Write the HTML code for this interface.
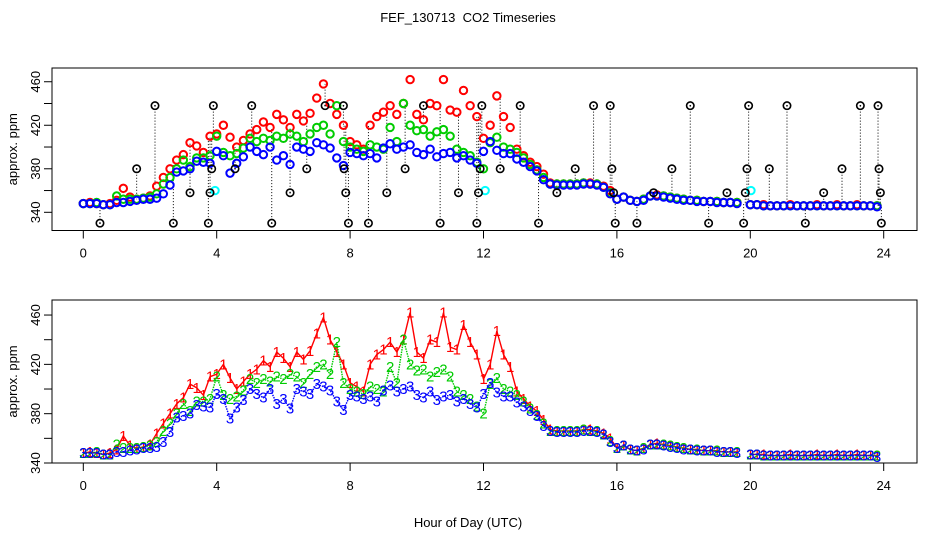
<!DOCTYPE html>
<html><head><meta charset="utf-8"><style>
html,body{margin:0;padding:0;background:#fff;}
svg{display:block;font-family:"Liberation Sans",Arial,sans-serif;}
</style></head><body>
<svg id="chart" width="936" height="540" viewBox="0 0 936 540" xmlns="http://www.w3.org/2000/svg">
<rect x="0" y="0" width="936" height="540" fill="#fff"/>
<text x="468" y="22" font-size="13" text-anchor="middle">FEF_130713&#160; CO2 Timeseries</text>
<text x="468" y="527" font-size="13" text-anchor="middle">Hour of Day (UTC)</text>
<g id="top"></g>
<g id="bot"></g>
</svg>
<script>
const hours = [0,0.2,0.4,0.6,0.8,1,1.2,1.4,1.6,1.8,2,2.2,2.4,2.6,2.8,3,3.2,3.4,3.6,3.8,4,4.2,4.4,4.6,4.8,5,5.2,5.4,5.6,5.8,6,6.2,6.4,6.6,6.8,7,7.2,7.4,7.6,7.8,8,8.2,8.4,8.6,8.8,9,9.2,9.4,9.6,9.8,10,10.2,10.4,10.6,10.8,11,11.2,11.4,11.6,11.8,12,12.2,12.4,12.6,12.8,13,13.2,13.4,13.6,13.8,14,14.2,14.4,14.6,14.8,15,15.2,15.4,15.6,15.8,16,16.2,16.4,16.6,16.8,17,17.2,17.4,17.6,17.8,18,18.2,18.4,18.6,18.8,19,19.2,19.4,19.6,20,20.2,20.4,20.6,20.8,21,21.2,21.4,21.6,21.8,22,22.2,22.4,22.6,22.8,23,23.2,23.4,23.6,23.8];
const red = [348,349,348,347,348,351,362,354,352,353,355,364,372,380,388,393,404,401,395,410,412,420,409,400,406,412,416,423,418,430,425,418,430,424,431,445,458,440,430,420,405,402,398,420,428,432,438,430,440,462,430,425,440,438,462,434,432,452,438,428,408,420,447,428,418,398,392,386,382,375,367,366,366,366,366,367,367,366,364,360,352,354,351,350,352,355,356,355,354,353,352,351,351,350,350,350,349,349,349,347,347,347,346,346,346,347,346,346,346,347,346,346,347,346,346,347,346,346,346];
const green = [348,348,349,347,347,355,352,352,352,353,354,357,366,372,380,388,382,390,390,392,410,395,392,394,399,408,405,408,406,410,408,412,410,405,412,418,420,412,438,405,400,398,396,402,400,398,418,405,440,420,415,416,410,414,416,410,398,395,392,386,380,404,409,400,398,395,390,384,379,372,366,366,366,366,366,367,366,366,363,358,352,354,351,350,352,355,355,355,354,353,352,351,351,350,350,350,349,349,349,347,347,346,346,346,346,346,346,346,346,346,346,346,346,346,346,346,346,346,346];
const blue = [348,348,348,347,347,349,349,350,351,352,352,353,357,365,377,378,380,387,386,385,396,392,376,385,391,400,396,393,400,388,392,384,400,398,396,404,402,399,390,383,395,394,392,394,390,399,403,398,400,402,395,393,398,391,394,395,390,392,388,385,396,405,397,394,394,389,386,382,378,370,366,365,365,365,365,366,366,365,363,357,352,354,351,350,351,355,355,354,353,352,351,351,350,350,350,349,349,349,348,347,347,346,346,346,346,346,346,346,346,346,346,346,346,346,346,346,346,346,345];
const outlierHours = [0.5,1.6,2.15,2.7,3.2,3.75,3.8,3.85,3.9,4.55,5.05,5.65,6.2,6.7,7.25,7.8,7.82,7.87,7.95,8.55,9.1,9.65,10.2,10.7,11.25,11.8,11.85,11.9,11.95,12.5,13.1,13.65,14.2,14.75,15.3,15.8,15.85,15.9,15.95,16.6,17.1,17.65,18.2,18.75,19.3,19.8,19.85,19.9,19.95,20.57,21.1,21.65,22.2,22.75,23.3,23.83,23.86,23.9,23.93];
const outlierValues = [330,380,438,330,358,330,358,380,438,380,438,330,358,380,438,438,380,358,330,330,358,380,438,330,358,330,358,380,438,380,438,330,358,380,438,438,380,358,330,330,358,380,438,330,358,330,358,380,438,380,438,330,358,380,438,438,380,358,330];
const cyanHours = [3.95,12.05,20.02];
const cyanValues = [360,360,360];
const yTicks = [340,360,380,400,420,440,460];
const yLabels = [340,380,420,460];
const xTicks = [0,4,8,12,16,20,24];

const NS = "http://www.w3.org/2000/svg";
function mk(tag, attrs, parent){const e=document.createElementNS(NS,tag);for(const k in attrs)e.setAttribute(k,attrs[k]);parent.appendChild(e);return e;}
const X = h => 83.3 + h*33.35;
const Ytop = v => 212.3 - (v-340)*1.088;
const Ybot = v => 463 - (v-340)*1.233;
function nearest(h){let b=0;for(let i=0;i<hours.length;i++){if(Math.abs(hours[i]-h)<Math.abs(hours[b]-h))b=i;}return b;}

function axes(g, top, bottom, Y, prefix){
  const box = mk('rect',{x:52,y:top,width:865,height:bottom-top,fill:'none',stroke:'#000','stroke-width':1},g);
  
  
  mk('line',{x1:X(0),x2:X(24),y1:bottom,y2:bottom,stroke:'#000'},g);
  xTicks.forEach(h=>{
    mk('line',{x1:X(h),x2:X(h),y1:bottom,y2:bottom+8,stroke:'#000'},g);
    const t=mk('text',{x:X(h),y:bottom+27,'font-size':13,'text-anchor':'middle'},g);
    t.textContent=h;
    
    
  });
  mk('line',{x1:52,x2:52,y1:Y(340),y2:Y(460),stroke:'#000'},g);
  yTicks.forEach(v=>{mk('line',{x1:44,x2:52,y1:Y(v),y2:Y(v),stroke:'#000'},g);});
  yLabels.forEach(v=>{
    const t=mk('text',{x:0,y:0,'font-size':13,'text-anchor':'middle',transform:`translate(40,${Y(v)}) rotate(-90)`},g);
    t.textContent=v;
    
    
  });
  const yl=mk('text',{x:0,y:0,'font-size':13,'text-anchor':'middle',transform:`translate(17,${(top+bottom)/2}) rotate(-90)`},g);
  yl.textContent='approx. ppm';
  
  
}

// top panel
const gt=document.getElementById('top');
axes(gt,68,230.5,Ytop,'top');
outlierHours.forEach((h,i)=>{
  const v=red[nearest(h)];
  const ln=mk('line',{x1:X(h),x2:X(h),y1:Ytop(outlierValues[i]),y2:Ytop(v),stroke:'#000','stroke-dasharray':'1,2','stroke-width':1},gt);
  
  
});
[[red,'#f00','red'],[green,'#0c0','green'],[blue,'#00f','blue']].forEach(([arr,c,n])=>{
  arr.forEach((v,i)=>{
    const p=mk('circle',{cx:X(hours[i]),cy:Ytop(v),r:3.7,fill:'none',stroke:c,'stroke-width':2},gt);
    
    
  });
});
cyanHours.forEach((h,i)=>{
  const p=mk('circle',{cx:X(h),cy:Ytop(cyanValues[i]),r:3.7,fill:'none',stroke:'#0ff','stroke-width':2},gt);
  
  
});
outlierHours.forEach((h,i)=>{
  const p=mk('circle',{cx:X(h),cy:Ytop(outlierValues[i]),r:3.7,fill:'none',stroke:'#000','stroke-width':1.6},gt);
  
  
  mk('circle',{cx:X(h),cy:Ytop(outlierValues[i]),r:0.8,fill:'#000'},gt);
});

// bottom panel
const gb=document.getElementById('bot');
axes(gb,300,463,Ybot,'bottom');
[[red,'#f00','1','none','red'],[green,'#0c0','2','1.5,1','green'],[blue,'#00f','3','1.5,1','blue']].forEach(([arr,c,ch,dash,n])=>{
  let d='';
  arr.forEach((v,i)=>{
    const cmd=(i===0||hours[i]-hours[i-1]>0.3)?'M':'L';
    d+=cmd+X(hours[i]).toFixed(1)+','+Ybot(v).toFixed(1)+' ';
  });
  const path=mk('path',{d:d,fill:'none',stroke:c,'stroke-width':1.4,'stroke-dasharray':dash},gb);
  
  
  arr.forEach((v,i)=>{
    const t=mk('text',{x:X(hours[i]),y:Ybot(v)+5,'font-size':15,'text-anchor':'middle',fill:c},gb);
    t.textContent=ch;
    
    
  });
});
</script>
</body></html>
